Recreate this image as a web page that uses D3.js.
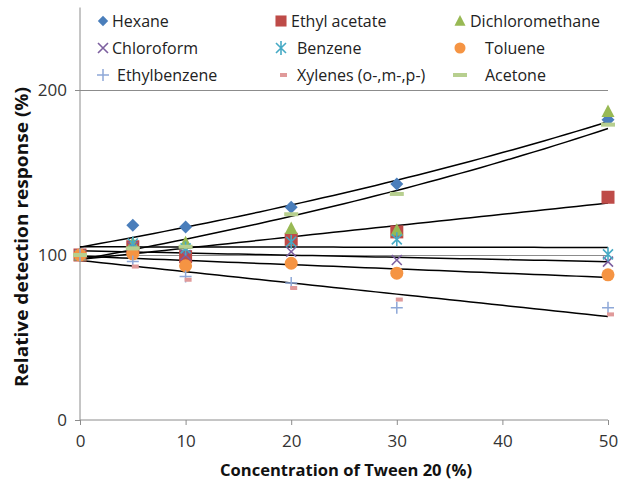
<!DOCTYPE html>
<html><head><meta charset="utf-8">
<script src="https://cdn.jsdelivr.net/npm/d3@7"></script>
<style>body{margin:0;background:#fff}svg{display:block}</style>
</head><body><svg id="c" width="623" height="489"></svg>
<script>
// ---- data ----
const concentrations = [0, 5, 10, 20, 30, 50];
const seriesNames = ["Hexane","Ethyl acetate","Dichloromethane","Chloroform","Benzene","Toluene","Ethylbenzene","Xylenes (o-,m-,p-)","Acetone"];
const hexane        = [100, 118, 117, 129, 143, 182];
const ethylAcetate  = [100, 105, 99, 109.5, 114, 135];
const dichloromethane = [100, 107, 107.5, 116, 115, 187];
const chloroform    = [100, 105, 100, 102, 97, 96];
const benzene       = [100, 107, 104, 108, 109.5, 100.4];
const toluene       = [100, 100.6, 93.5, 95, 89, 88];
const ethylbenzene  = [100, 96, 87, 83, 68, 68];
const xylenes       = [100, 93, 85, 80, 73, 64];
const acetone       = [100, 104, 105, 124.7, 137, 179];
const xTicks = [0, 10, 20, 30, 40, 50];
const yTicks = [0, 100, 200];
const trendTypes = ["exp","linear",null,"linear","linear","linear","linear",null,"exp"];
const markerTypes = ["diamond","square","triangle","x","asterisk","circle","plus","shortdash","longdash"];
const colors = ["#4A7EBB","#BE4B48","#98B954","#7D60A0","#46AAC5","#F59443","#8EA8D8","#E09A9A","#B7CF8F"];
const allValues = [hexane, ethylAcetate, dichloromethane, chloroform, benzene, toluene, ethylbenzene, xylenes, acetone];

// ---- layout ----
const svg = d3.select("#c");
const font = "'Open Sans', 'Noto Sans', sans-serif";
const x = d3.scaleLinear().domain([0, 50]).range([80, 608]);
const y = d3.scaleLinear().domain([0, 250]).range([420, 7.5]);

// gridlines
svg.append("g").selectAll("line").data(yTicks.filter(d => d > 0)).join("line")
  .attr("x1", x(0)).attr("x2", x(50)).attr("y1", d => y(d)).attr("y2", d => y(d))
  .attr("stroke", "#8c8c8c").attr("stroke-width", 1).attr("shape-rendering","crispEdges");

// axes
const xAxis = svg.append("g").attr("transform", `translate(0,${y(0)})`)
  .call(d3.axisBottom(x).tickValues(xTicks).tickSize(5).tickPadding(10).tickSizeOuter(0));
const yAxis = svg.append("g").attr("transform", `translate(${x(0)},0)`)
  .call(d3.axisLeft(y).tickValues(yTicks).tickSize(5).tickPadding(8).tickSizeOuter(0));
[xAxis, yAxis].forEach(a => {
  a.select(".domain").attr("stroke", "#8c8c8c");
  a.selectAll(".tick line").attr("stroke", "#8c8c8c");
  a.selectAll("text").attr("font-family", font).attr("font-size", 17).attr("fill", "#333");
});
xAxis.select(".domain").attr("d", `M${x(0)},0H${x(50)}`);
yAxis.select(".domain").attr("d", `M0,${y(0)}V${y(250)}`);

// trendlines
function fit(xs, ys, type) {
  const yy = type === "exp" ? ys.map(Math.log) : ys;
  const mx = d3.mean(xs), my = d3.mean(yy);
  const b = d3.sum(xs, (v, i) => (v - mx) * (yy[i] - my)) / d3.sum(xs, v => (v - mx) ** 2);
  const a = my - b * mx;
  return type === "exp" ? (t => Math.exp(a + b * t)) : (t => a + b * t);
}
const line = d3.line().x(d => x(d[0])).y(d => y(d[1]));
allValues.forEach((vals, i) => {
  const t = trendTypes[i];
  if (!t) return;
  const f = fit(concentrations, vals, t);
  const pts = d3.range(0, 50.01, 1).map(c => [c, f(c)]);
  svg.append("path").attr("d", line(pts)).attr("fill", "none")
    .attr("stroke", "#000").attr("stroke-width", 1.5);
});

// markers
function marker(g, type, color) {
  switch (type) {
    case "diamond": g.append("path").attr("d","M0,-6.5L6.5,0L0,6.5L-6.5,0Z").attr("fill",color); break;
    case "square": g.append("rect").attr("x",-6.5).attr("y",-6.5).attr("width",13).attr("height",13).attr("fill",color); break;
    case "triangle": g.append("path").attr("d","M0,-7L6.5,5.5L-6.5,5.5Z").attr("fill",color); break;
    case "circle": g.append("circle").attr("r",6.5).attr("fill",color); break;
    case "x": g.append("path").attr("d","M-5,-5L5,5M-5,5L5,-5").attr("stroke",color).attr("stroke-width",1.6).attr("fill","none"); break;
    case "asterisk": g.append("path").attr("d","M-5,-5L5,5M-5,5L5,-5M0,-7L0,7").attr("stroke",color).attr("stroke-width",1.6).attr("fill","none"); break;
    case "plus": g.append("path").attr("d","M-6,0L6,0M0,-6L0,6").attr("stroke",color).attr("stroke-width",1.5).attr("fill","none"); break;
    case "shortdash": g.append("rect").attr("x",-1).attr("y",-2).attr("width",7).attr("height",4).attr("fill",color); break;
    case "longdash": g.append("rect").attr("x",-7).attr("y",-2).attr("width",14).attr("height",4).attr("fill",color); break;
  }
}
allValues.forEach((vals, i) => {
  const g = svg.append("g");
  vals.forEach((v, j) => {
    marker(g.append("g").attr("transform", `translate(${x(concentrations[j])},${y(v)})`), markerTypes[i], colors[i]);
  });
});

// legend
const colX = [103, 281, 460];
const rowY = [21, 48, 75];
const textOffsets = [[9, 10, 10], [9, 16, 25], [14, 16, 25]];
seriesNames.forEach((name, i) => {
  const r = Math.floor(i / 3), c = i % 3;
  const g = svg.append("g").attr("transform", `translate(${colX[c]},${rowY[r]})`);
  const mg = g.append("g");
  if (markerTypes[i] === "diamond") mg.attr("transform","scale(0.8)");
  if (markerTypes[i] === "square") mg.attr("transform","scale(0.85)");
  if (markerTypes[i] === "triangle") mg.attr("transform","scale(0.85)");
  if (markerTypes[i] === "circle") mg.attr("transform","scale(0.85)");
  marker(mg, markerTypes[i], colors[i]);
  g.append("text").attr("x", textOffsets[r][c]).attr("y", 0).attr("dy", "0.35em")
    .attr("font-family", font).attr("font-size", 16).attr("fill", "#222").text(name);
});

// axis titles
svg.append("text").attr("x", 346).attr("y", 470).attr("dy","0.35em").attr("text-anchor","middle")
  .attr("font-family", font).attr("font-weight","bold").attr("font-size", 16.5).attr("fill","#111")
  .attr("textLength", 252).attr("lengthAdjust","spacingAndGlyphs")
  .text("Concentration of Tween 20 (%)");
svg.append("text").attr("transform","translate(22,237) rotate(-90)").attr("dy","0.35em").attr("text-anchor","middle")
  .attr("font-family", font).attr("font-weight","bold").attr("font-size", 17).attr("fill","#111")
  .attr("textLength", 300).attr("lengthAdjust","spacingAndGlyphs")
  .text("Relative detection response (%)");
</script></body></html>
